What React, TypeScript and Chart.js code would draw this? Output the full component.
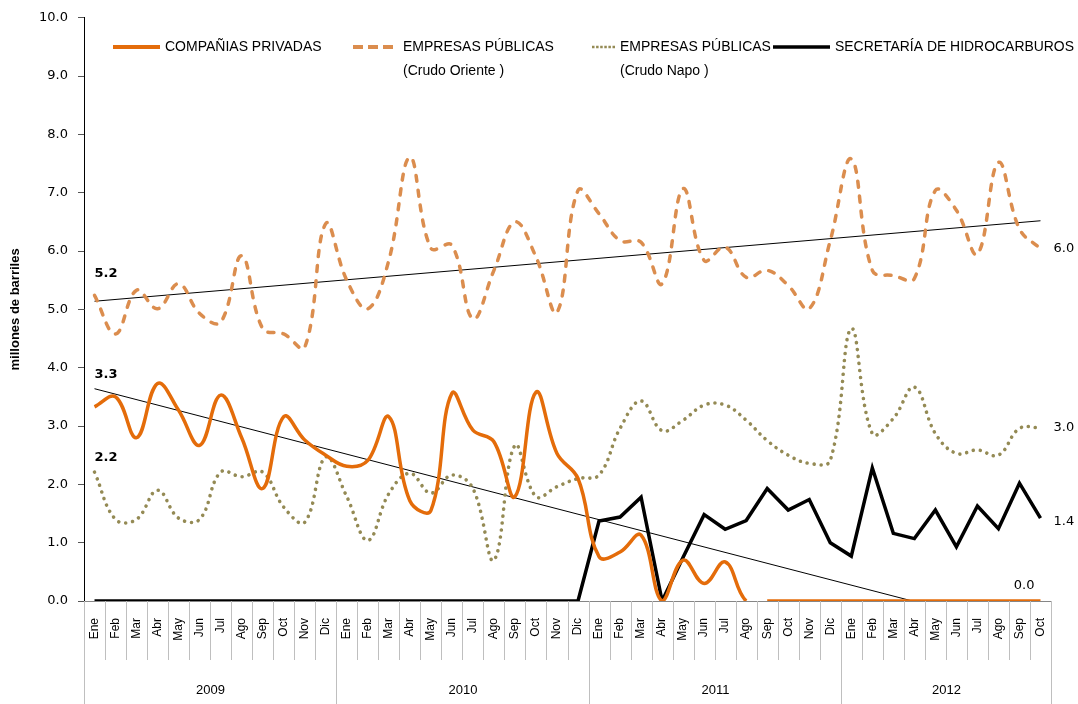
import React, { useEffect, useRef } from "react";
import { Chart, registerables } from "chart.js";

Chart.register(...registerables);

// ---------- DATA ----------
const monthNames = ["Ene", "Feb", "Mar", "Abr", "May", "Jun", "Jul", "Ago", "Sep", "Oct", "Nov", "Dic"];
const years = ["2009", "2010", "2011", "2012"];
const monthsPerYear = [12, 12, 12, 10];
const categories: string[] = years.flatMap((_, k) => monthNames.slice(0, monthsPerYear[k]));

const seriesNames = [
  ["COMPAÑIAS PRIVADAS"],
  ["EMPRESAS PÚBLICAS", "(Crudo Oriente )"],
  ["EMPRESAS PÚBLICAS", "(Crudo Napo )"],
  ["SECRETARÍA DE HIDROCARBUROS"],
];

const companiasPrivadas = [
  3.33, 3.5, 2.8, 3.73, 3.27, 2.67, 3.53, 2.8, 1.93, 3.16, 2.76, 2.5,
  2.31, 2.41, 3.16, 1.72, 1.55, 3.56, 2.93, 2.73, 1.79, 3.58, 2.53, 2.1,
  0.76, 0.84, 1.13, 0.0, 0.7, 0.3, 0.67, 0.0, 0, 0, 0, 0,
  0, 0, 0, 0, 0, 0, 0, 0, 0, 0,
];
const crudoOriente = [
  5.24, 4.58, 5.33, 5.01, 5.44, 4.93, 4.78, 5.92, 4.67, 4.58, 4.35, 6.47,
  5.5, 5.01, 5.84, 7.61, 6.05, 6.1, 4.84, 5.67, 6.5, 5.9, 4.95, 7.04,
  6.64, 6.18, 6.15, 5.44, 7.07, 5.84, 6.07, 5.55, 5.67, 5.41, 5.01, 6.18,
  7.58, 5.67, 5.58, 5.53, 7.04, 6.7, 5.95, 7.52, 6.38, 6.04,
];
const crudoNapo = [
  2.21, 1.4, 1.4, 1.9, 1.42, 1.4, 2.21, 2.13, 2.21, 1.61, 1.35, 2.47,
  1.79, 1.04, 1.84, 2.19, 1.85, 2.16, 1.93, 0.7, 2.67, 1.79, 1.96, 2.1,
  2.16, 2.96, 3.43, 2.92, 3.1, 3.36, 3.36, 3.1, 2.75, 2.5, 2.36, 2.41,
  4.67, 2.87, 3.13, 3.67, 2.87, 2.53, 2.59, 2.5, 2.96, 2.97,
];
const secretaria = [
  0, 0, 0, 0, 0, 0, 0, 0, 0, 0, 0, 0,
  0, 0, 0, 0, 0, 0, 0, 0, 0, 0, 0, 0,
  1.37, 1.44, 1.78, 0.0, 0.75, 1.48, 1.23, 1.38, 1.93, 1.56, 1.74, 1.0,
  0.77, 2.28, 1.16, 1.07, 1.56, 0.93, 1.63, 1.24, 2.02, 1.42,
];
// linear trend lines: value at first and at last month
const tendenciaPrivadas = [3.64, -0.57];
const tendenciaOriente = [5.14, 6.52];

const yTicksMin = 0;
const yTicksMax = 10;
const yTicksStep = 1;

// ---------- STYLE ----------
const ORANGE = "#E46C0A";
const ORIENTE = "#DB8D4E";
const NAPO = "#948A54";
const BLACK = "#000000";
const SEP = "#BFBFBF";

function endpoints(v: number[]) {
  const arr: (number | null)[] = categories.map(() => null);
  arr[0] = v[0];
  arr[arr.length - 1] = v[1];
  return arr;
}

const decorPlugin = {
  id: "decor",
  afterDraw(chart: any) {
    const ctx = chart.ctx;
    const xs = chart.scales.x;
    const area = chart.chartArea;
    const n = categories.length;
    const half = (xs.getPixelForValue(1) - xs.getPixelForValue(0)) / 2;
    ctx.save();
    ctx.strokeStyle = SEP;
    ctx.lineWidth = 1;
    for (let i = 0; i <= n; i++) {
      const x = Math.round(xs.getPixelForValue(Math.min(i, n - 1)) + (i === n ? half : -half)) + 0.5;
      ctx.beginPath();
      ctx.moveTo(x, area.bottom);
      ctx.lineTo(x, area.bottom + 59);
      ctx.stroke();
    }
    let start = 0;
    ctx.fillStyle = "#000";
    ctx.font = "13px 'Liberation Sans', Arial, sans-serif";
    ctx.textAlign = "center";
    ctx.textBaseline = "middle";
    const bottom = chart.height;
    for (let k = 0; k < years.length; k++) {
      const end = start + monthsPerYear[k] - 1;
      const x0 = Math.round(xs.getPixelForValue(start) - half) + 0.5;
      const x1 = Math.round(xs.getPixelForValue(end) + half) + 0.5;
      ctx.beginPath();
      ctx.moveTo(x0, area.bottom);
      ctx.lineTo(x0, bottom);
      ctx.moveTo(x1, area.bottom);
      ctx.lineTo(x1, bottom);
      ctx.stroke();
      ctx.fillText(years[k], (x0 + x1) / 2, area.bottom + 89);
      start = end + 1;
    }
    ctx.restore();
  },
};

const legendPlugin = {
  id: "customLegend",
  afterDraw(chart: any) {
    const ctx = chart.ctx;
    const items = [
      { sample: [113, 160], textX: 165, widths: [165], kind: "solid", color: ORANGE, w: 4 },
      { sample: [353, 398], textX: 403, widths: [151, 114], kind: "dash", color: ORIENTE, w: 4 },
      { sample: [592, 615], textX: 620, widths: [151, 92], kind: "dot", color: NAPO, w: 2.5 },
      { sample: [773, 830], textX: 835, widths: [239], kind: "solid", color: BLACK, w: 3.5 },
    ];
    const y1 = 47;
    const y2 = 71;
    ctx.save();
    items.forEach((it, i) => {
      ctx.beginPath();
      ctx.strokeStyle = it.color;
      ctx.lineWidth = it.w;
      if (it.kind === "dash") ctx.setLineDash([10, 5]);
      else if (it.kind === "dot") ctx.setLineDash([2.5, 1.6]);
      else ctx.setLineDash([]);
      ctx.lineCap = "butt";
      ctx.moveTo(it.sample[0], y1);
      ctx.lineTo(it.sample[1], y1);
      ctx.stroke();
      ctx.setLineDash([]);
      ctx.fillStyle = "#000";
      ctx.font = "14px 'Liberation Sans', Arial, sans-serif";
      ctx.textAlign = "left";
      ctx.textBaseline = "middle";
      seriesNames[i].forEach((line, j) => {
        ctx.fillText(line, it.textX, j === 0 ? y1 : y2, it.widths[j]);
      });
    });
    ctx.restore();
  },
};

const valueLabelPlugin = {
  id: "valueLabels",
  afterDatasetsDraw(chart: any) {
    const ctx = chart.ctx;
    const last = categories.length - 1;
    const specs = [
      { ds: 1, idx: 0, dx: 0, dy: -22, align: "left", bold: true },
      { ds: 0, idx: 0, dx: 0, dy: -32, align: "left", bold: true },
      { ds: 2, idx: 0, dx: 0, dy: -14, align: "left", bold: true },
      { ds: 1, idx: last, dx: 13, dy: 0, align: "left", bold: false },
      { ds: 2, idx: last, dx: 13, dy: 0, align: "left", bold: false },
      { ds: 3, idx: last, dx: 13, dy: 3, align: "left", bold: false },
      { ds: 0, idx: last, dx: -6, dy: -15, align: "right", bold: false },
    ];
    ctx.save();
    ctx.fillStyle = "#000";
    ctx.textBaseline = "middle";
    specs.forEach((s) => {
      const pt = chart.getDatasetMeta(s.ds).data[s.idx];
      const v = chart.data.datasets[s.ds].data[s.idx] as number;
      ctx.font = (s.bold ? "bold " : "") + "13px 'DejaVu Sans', sans-serif";
      ctx.textAlign = s.align;
      ctx.fillText(v.toFixed(1), pt.x + s.dx, pt.y + s.dy);
    });
    ctx.restore();
  },
};

export default function App() {
  const ref = useRef<HTMLCanvasElement | null>(null);
  useEffect(() => {
    if (!ref.current) return;
    const chart = new Chart(ref.current, {
      type: "line",
      data: {
        labels: categories,
        datasets: [
          {
            label: seriesNames[0].join(" "),
            data: companiasPrivadas,
            borderColor: ORANGE,
            borderWidth: 3.5,
            tension: 0.4,
            pointRadius: 0,
            segment: {
              borderColor: (c: any) => (c.p0DataIndex === 31 ? "rgba(0,0,0,0)" : ORANGE),
            },
          },
          {
            label: seriesNames[1].join(" "),
            data: crudoOriente,
            borderColor: ORIENTE,
            borderWidth: 3.5,
            borderDash: [6, 9],
            borderCapStyle: "round",
            tension: 0.4,
            pointRadius: 0,
          },
          {
            label: seriesNames[2].join(" "),
            data: crudoNapo,
            borderColor: NAPO,
            borderWidth: 3.6,
            borderDash: [0.01, 7],
            borderCapStyle: "round",
            tension: 0.4,
            pointRadius: 0,
          },
          {
            label: seriesNames[3].join(" "),
            data: secretaria,
            borderColor: BLACK,
            borderWidth: 3.5,
            tension: 0,
            pointRadius: 0,
          },
          {
            label: "Tendencia privadas",
            data: endpoints(tendenciaPrivadas),
            borderColor: BLACK,
            borderWidth: 1,
            spanGaps: true,
            pointRadius: 0,
            tension: 0,
          },
          {
            label: "Tendencia oriente",
            data: endpoints(tendenciaOriente),
            borderColor: BLACK,
            borderWidth: 1,
            spanGaps: true,
            pointRadius: 0,
            tension: 0,
          },
        ],
      },
      options: {
        responsive: false,
        animation: false,
        layout: { padding: { top: 16, right: 27, left: 0, bottom: 0 } },
        plugins: { legend: { display: false }, tooltip: { enabled: false } },
        scales: {
          x: {
            type: "category",
            offset: true,
            grid: { display: false, drawOnChartArea: false, drawTicks: false },
            border: { display: true, color: "#868686" },
            ticks: {
              autoSkip: false,
              minRotation: 90,
              maxRotation: 90,
              padding: 17,
              color: "#000",
              font: { family: "'Liberation Sans', Arial, sans-serif", size: 12 },
            },
            afterFit: (s: any) => {
              s.height = 103;
            },
          },
          y: {
            min: yTicksMin,
            max: yTicksMax,
            ticks: {
              stepSize: yTicksStep,
              callback: (v: any) => Number(v).toFixed(1),
              padding: 10,
              color: "#000",
              font: { family: "'DejaVu Sans', sans-serif", size: 13 },
            },
            grid: { drawOnChartArea: false, drawTicks: true, tickLength: 6, color: "#555" },
            border: { color: "#000" },
            title: {
              display: true,
              text: "millones de barriles",
              color: "#000",
              font: { family: "'Liberation Sans', Arial, sans-serif", size: 13, weight: "bold" },
              padding: { top: 8, bottom: 0 },
            },
            afterFit: (s: any) => {
              s.width = 84;
            },
          },
        },
      },
      plugins: [decorPlugin, legendPlugin, valueLabelPlugin],
    });
    return () => chart.destroy();
  }, []);
  return (
    <div style={{ position: "fixed", left: 0, top: 0, width: 1078, height: 704, background: "#fff" }}>
      <canvas ref={ref} width={1078} height={704} style={{ display: "block" }} />
    </div>
  );
}
